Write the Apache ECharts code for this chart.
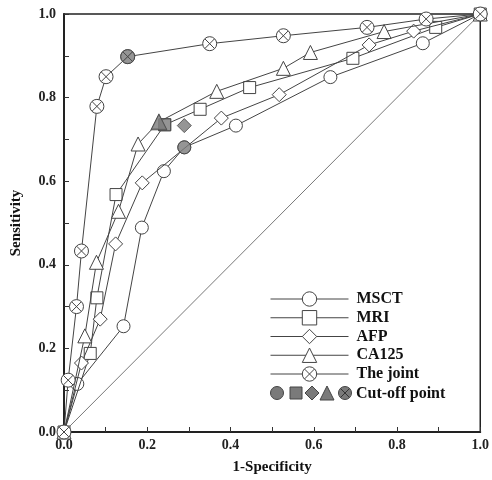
<!DOCTYPE html>
<html>
<head>
<meta charset="utf-8">
<script src="https://cdn.jsdelivr.net/npm/echarts@6/dist/echarts.min.js"></script>
<style>
  html, body { margin: 0; padding: 0; background: #fff; }
  #chart { width: 492px; height: 480px; }
</style>
</head>
<body>
<div id="chart"></div>
<script>
// ---- data ----
const msctX  = [0, 0.032, 0.143, 0.187, 0.240, 0.289, 0.413, 0.640, 0.862, 1];
const msctY  = [0, 0.115, 0.253, 0.489, 0.624, 0.681, 0.733, 0.849, 0.930, 1];
const mriX   = [0, 0.063, 0.079, 0.125, 0.242, 0.327, 0.446, 0.694, 0.893, 1];
const mriY   = [0, 0.188, 0.321, 0.568, 0.735, 0.772, 0.824, 0.894, 0.968, 1];
const afpX   = [0, 0.042, 0.087, 0.124, 0.188, 0.378, 0.517, 0.733, 0.840, 1];
const afpY   = [0, 0.165, 0.270, 0.450, 0.596, 0.751, 0.807, 0.926, 0.959, 1];
const ca125X = [0, 0.050, 0.078, 0.131, 0.178, 0.228, 0.367, 0.527, 0.592, 0.769, 1];
const ca125Y = [0, 0.230, 0.406, 0.528, 0.689, 0.742, 0.815, 0.870, 0.908, 0.958, 1];
const jointX = [0, 0.010, 0.030, 0.042, 0.079, 0.101, 0.153, 0.350, 0.527, 0.728, 0.870, 1];
const jointY = [0, 0.124, 0.300, 0.433, 0.779, 0.850, 0.898, 0.929, 0.948, 0.968, 0.988, 1];
// cut-off points: MSCT, MRI, AFP, CA125, The joint
const cutoffX = [0.289, 0.242, 0.289, 0.228, 0.153];
const cutoffY = [0.681, 0.735, 0.733, 0.742, 0.898];
const diagX = [0, 1];
const diagY = [0, 1];
const seriesNames = ['MSCT', 'MRI', 'AFP', 'CA125', 'The joint'];
const xTicks = [0, 0.2, 0.4, 0.6, 0.8, 1.0];
const yTicks = [0, 0.2, 0.4, 0.6, 0.8, 1.0];

const zip = (xs, ys) => xs.map((x, i) => [x, ys[i]]);

const FONT = '"Liberation Serif", "Times New Roman", serif';
const LINE = '#444';
const EDGE = '#444';
const CUT = '#7a7a7a';
const jointPath = 'path://M0,10A10,10 0 1,1 20,10A10,10 0 1,1 0,10Z M3.2,3.2L16.8,16.8 M16.8,3.2L3.2,16.8';
const symbols = ['circle', 'rect', 'diamond', 'triangle', jointPath];
const sizes = [13, 12, 14, 14, 14];

function lineSeries(i, xs, ys) {
  return {
    name: seriesNames[i],
    type: 'line',
    data: zip(xs, ys),
    symbol: symbols[i],
    symbolSize: sizes[i],
    showAllSymbol: true,
    lineStyle: { color: LINE, width: 1 },
    itemStyle: { color: '#fff', borderColor: EDGE, borderWidth: 1 },
    emphasis: { disabled: true },
    z: 3 + i
  };
}

const chart = echarts.init(document.getElementById('chart'), null, { renderer: 'canvas' });

const tickFmt = (list) => (v) => {
  const hit = list.some(t => Math.abs(t - v) < 1e-6);
  return hit ? v.toFixed(1) : '';
};

const cutData = cutoffX.map((x, i) => ({
  value: [x, cutoffY[i]],
  symbol: symbols[i],
  symbolSize: sizes[i] + (i === 3 ? 2 : 0)
}));

chart.setOption({
  animation: false,
  backgroundColor: '#fff',
  grid: { left: 64, right: 7, top: 14, bottom: 47, show: true, borderColor: '#222', borderWidth: 1.5, backgroundColor: 'transparent' },
  xAxis: {
    type: 'value', min: 0, max: 1, interval: 0.1,
    name: '1-Specificity', nameLocation: 'middle', nameGap: 28,
    nameTextStyle: { fontFamily: FONT, fontWeight: 'bold', fontSize: 15, color: '#111' },
    axisLine: { lineStyle: { color: '#222', width: 2 } },
    axisTick: { inside: true, length: 5, lineStyle: { color: '#333', width: 1 } },
    axisLabel: { formatter: tickFmt(xTicks), fontFamily: FONT, fontWeight: 'bold', fontSize: 14, color: '#222', margin: 6 },
    splitLine: { show: false }
  },
  yAxis: {
    type: 'value', min: 0, max: 1, interval: 0.1,
    name: 'Sensitivity', nameLocation: 'middle', nameGap: 40, nameRotate: 90,
    nameTextStyle: { fontFamily: FONT, fontWeight: 'bold', fontSize: 15, color: '#111' },
    axisLine: { lineStyle: { color: '#222', width: 2 } },
    axisTick: { inside: true, length: 5, lineStyle: { color: '#333', width: 1 } },
    axisLabel: { formatter: tickFmt(yTicks), fontFamily: FONT, fontWeight: 'bold', fontSize: 14, color: '#222', margin: 8 },
    splitLine: { show: false }
  },
  legend: {
    data: seriesNames,
    orient: 'vertical',
    left: 265, top: 286,
    itemWidth: 78, itemHeight: 18, itemGap: 2.75,
    selectedMode: false,
    itemStyle: { color: '#fff', borderColor: EDGE, borderWidth: 1 },
    lineStyle: { color: LINE, width: 1 },
    textStyle: { fontFamily: FONT, fontWeight: 'bold', fontSize: 16, color: '#111', padding: [0, 0, 0, 3] }
  },
  graphic: [
    { type: 'circle', shape: { cx: 277, cy: 393, r: 6.5 }, style: { fill: CUT, stroke: EDGE, lineWidth: 1 }, z: 10 },
    { type: 'rect', shape: { x: 290, y: 387, width: 12, height: 12 }, style: { fill: CUT, stroke: EDGE, lineWidth: 1 }, z: 10 },
    { type: 'polygon', shape: { points: [[312, 386], [319, 393], [312, 400], [305, 393]] }, style: { fill: CUT, stroke: EDGE, lineWidth: 1 }, z: 10 },
    { type: 'polygon', shape: { points: [[327, 386], [334, 400], [320, 400]] }, style: { fill: CUT, stroke: EDGE, lineWidth: 1 }, z: 10 },
    { type: 'circle', shape: { cx: 345, cy: 393, r: 6.5 }, style: { fill: CUT, stroke: EDGE, lineWidth: 1 }, z: 10 },
    { type: 'line', shape: { x1: 340.5, y1: 388.5, x2: 349.5, y2: 397.5 }, style: { stroke: '#333', lineWidth: 1 }, z: 11 },
    { type: 'line', shape: { x1: 349.5, y1: 388.5, x2: 340.5, y2: 397.5 }, style: { stroke: '#333', lineWidth: 1 }, z: 11 },
    { type: 'text', x: 356, y: 394, style: { text: 'Cut-off point', font: 'bold 16px ' + FONT, fill: '#111', textVerticalAlign: 'middle' }, z: 10 }
  ],
  series: [
    {
      name: 'diagonal', type: 'line', data: zip(diagX, diagY), symbol: 'none',
      lineStyle: { color: '#555', width: 0.8 }, emphasis: { disabled: true }, z: 2
    },
    lineSeries(0, msctX, msctY),
    lineSeries(1, mriX, mriY),
    lineSeries(2, afpX, afpY),
    lineSeries(3, ca125X, ca125Y),
    lineSeries(4, jointX, jointY),
    {
      name: 'Cut-off point', type: 'scatter', data: cutData,
      itemStyle: { color: CUT, borderColor: EDGE, borderWidth: 1 },
      emphasis: { disabled: true }, z: 20
    }
  ]
});
</script>
</body>
</html>
